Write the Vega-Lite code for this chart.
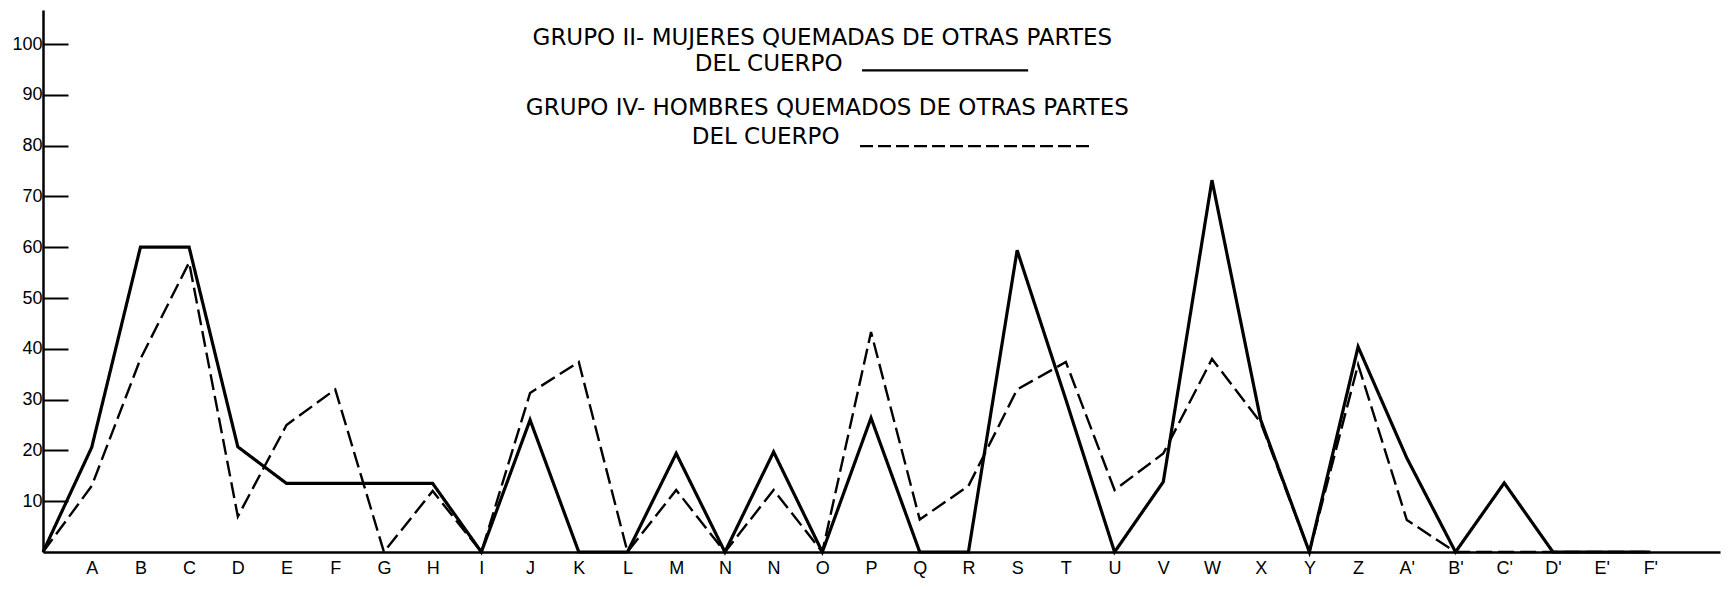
{
  "$schema": "https://vega.github.io/schema/vega-lite/v6.json",
  "autosize": {"type": "none"},
  "padding": {"left": 43, "top": 10, "right": 11, "bottom": 37},
  "width": 1677,
  "height": 542,
  "background": "white",
  "config": {"view": {"stroke": null}, "axis": {"grid": false}},
  "data": {"values": [
    {"i": 0, "cat": " ", "grupo": "II", "valor": 0},
    {"i": 1, "cat": "A", "grupo": "II", "valor": 20.6},
    {"i": 2, "cat": "B", "grupo": "II", "valor": 60},
    {"i": 3, "cat": "C", "grupo": "II", "valor": 60},
    {"i": 4, "cat": "D", "grupo": "II", "valor": 20.7},
    {"i": 5, "cat": "E", "grupo": "II", "valor": 13.5},
    {"i": 6, "cat": "F", "grupo": "II", "valor": 13.5},
    {"i": 7, "cat": "G", "grupo": "II", "valor": 13.5},
    {"i": 8, "cat": "H", "grupo": "II", "valor": 13.5},
    {"i": 9, "cat": "I", "grupo": "II", "valor": 0},
    {"i": 10, "cat": "J", "grupo": "II", "valor": 26},
    {"i": 11, "cat": "K", "grupo": "II", "valor": 0},
    {"i": 12, "cat": "L", "grupo": "II", "valor": 0},
    {"i": 13, "cat": "M", "grupo": "II", "valor": 19.4},
    {"i": 14, "cat": "N", "grupo": "II", "valor": 0},
    {"i": 15, "cat": "N ", "grupo": "II", "valor": 19.7},
    {"i": 16, "cat": "O", "grupo": "II", "valor": 0},
    {"i": 17, "cat": "P", "grupo": "II", "valor": 26.4},
    {"i": 18, "cat": "Q", "grupo": "II", "valor": 0},
    {"i": 19, "cat": "R", "grupo": "II", "valor": 0},
    {"i": 20, "cat": "S", "grupo": "II", "valor": 59.4},
    {"i": 21, "cat": "T", "grupo": "II", "valor": 30},
    {"i": 22, "cat": "U", "grupo": "II", "valor": 0},
    {"i": 23, "cat": "V", "grupo": "II", "valor": 13.8},
    {"i": 24, "cat": "W", "grupo": "II", "valor": 73.2},
    {"i": 25, "cat": "X", "grupo": "II", "valor": 26},
    {"i": 26, "cat": "Y", "grupo": "II", "valor": 0},
    {"i": 27, "cat": "Z", "grupo": "II", "valor": 40.4},
    {"i": 28, "cat": "A'", "grupo": "II", "valor": 18.5},
    {"i": 29, "cat": "B'", "grupo": "II", "valor": 0},
    {"i": 30, "cat": "C'", "grupo": "II", "valor": 13.6},
    {"i": 31, "cat": "D'", "grupo": "II", "valor": 0},
    {"i": 32, "cat": "E'", "grupo": "II", "valor": 0},
    {"i": 33, "cat": "F'", "grupo": "II", "valor": 0},
    {"i": 0, "cat": " ", "grupo": "IV", "valor": 0},
    {"i": 1, "cat": "A", "grupo": "IV", "valor": 13},
    {"i": 2, "cat": "B", "grupo": "IV", "valor": 38},
    {"i": 3, "cat": "C", "grupo": "IV", "valor": 57},
    {"i": 4, "cat": "D", "grupo": "IV", "valor": 7},
    {"i": 5, "cat": "E", "grupo": "IV", "valor": 25},
    {"i": 6, "cat": "F", "grupo": "IV", "valor": 32},
    {"i": 7, "cat": "G", "grupo": "IV", "valor": 0},
    {"i": 8, "cat": "H", "grupo": "IV", "valor": 12},
    {"i": 9, "cat": "I", "grupo": "IV", "valor": 0},
    {"i": 10, "cat": "J", "grupo": "IV", "valor": 31.3},
    {"i": 11, "cat": "K", "grupo": "IV", "valor": 37.4},
    {"i": 12, "cat": "L", "grupo": "IV", "valor": 0},
    {"i": 13, "cat": "M", "grupo": "IV", "valor": 12.2},
    {"i": 14, "cat": "N", "grupo": "IV", "valor": 0},
    {"i": 15, "cat": "N ", "grupo": "IV", "valor": 12.2},
    {"i": 16, "cat": "O", "grupo": "IV", "valor": 0},
    {"i": 17, "cat": "P", "grupo": "IV", "valor": 43.3},
    {"i": 18, "cat": "Q", "grupo": "IV", "valor": 6.4},
    {"i": 19, "cat": "R", "grupo": "IV", "valor": 13},
    {"i": 20, "cat": "S", "grupo": "IV", "valor": 32},
    {"i": 21, "cat": "T", "grupo": "IV", "valor": 37.4},
    {"i": 22, "cat": "U", "grupo": "IV", "valor": 12.2},
    {"i": 23, "cat": "V", "grupo": "IV", "valor": 19.4},
    {"i": 24, "cat": "W", "grupo": "IV", "valor": 38},
    {"i": 25, "cat": "X", "grupo": "IV", "valor": 25.5},
    {"i": 26, "cat": "Y", "grupo": "IV", "valor": 0},
    {"i": 27, "cat": "Z", "grupo": "IV", "valor": 36.9},
    {"i": 28, "cat": "A'", "grupo": "IV", "valor": 6.3},
    {"i": 29, "cat": "B'", "grupo": "IV", "valor": 0},
    {"i": 30, "cat": "C'", "grupo": "IV", "valor": 0},
    {"i": 31, "cat": "D'", "grupo": "IV", "valor": 0},
    {"i": 32, "cat": "E'", "grupo": "IV", "valor": 0},
    {"i": 33, "cat": "F'", "grupo": "IV", "valor": 0}
  ]},
  "layer": [
    {
      "mark": {"type": "line", "color": "black", "strokeJoin": "miter", "strokeCap": "butt"},
      "encoding": {
        "x": {
          "field": "cat", "type": "ordinal", "sort": null,
          "scale": {"type": "point", "padding": 0.715, "align": 0},
          "axis": {
            "title": null, "labelAngle": 0, "ticks": false, "tickSize": 0,
            "domainColor": "black", "domainWidth": 2.5,
            "labelColor": "black", "labelFont": "Liberation Sans", "labelFontSize": 18,
            "labelPadding": 7, "labelExpr": "trim(datum.label)"
          }
        },
        "y": {
          "field": "valor", "type": "quantitative",
          "scale": {"domain": [0, 106.7], "nice": false},
          "axis": {
            "title": null, "values": [10, 20, 30, 40, 50, 60, 70, 80, 90, 100],
            "domainColor": "black", "domainWidth": 2.5,
            "tickColor": "black", "tickWidth": 2, "tickSize": -25,
            "labelColor": "black", "labelFont": "Liberation Sans", "labelFontSize": 18,
            "labelPadding": 26
          }
        },
        "detail": {"field": "grupo"},
        "order": {"field": "i", "type": "quantitative"},
        "strokeDash": {
          "field": "grupo", "type": "nominal",
          "scale": {"domain": ["II", "IV"], "range": [[1, 0], [16, 6]]},
          "legend": null
        },
        "strokeWidth": {
          "field": "grupo", "type": "nominal",
          "scale": {"domain": ["II", "IV"], "range": [3.2, 2.4]},
          "legend": null
        }
      }
    },
    {
      "data": {"values": [{}]},
      "mark": {"type": "text", "text": "GRUPO II- MUJERES QUEMADAS DE OTRAS PARTES", "font": "DejaVu Sans", "fontSize": 23, "align": "center", "baseline": "alphabetic", "color": "black"},
      "encoding": {"x": {"datum": "O"}, "y": {"datum": 99.9}}
    },
    {
      "data": {"values": [{}]},
      "mark": {"type": "text", "text": "DEL CUERPO", "font": "DejaVu Sans", "fontSize": 23, "align": "center", "baseline": "alphabetic", "color": "black", "dx": -5},
      "encoding": {"x": {"datum": "N "}, "y": {"datum": 94.6}}
    },
    {
      "data": {"values": [{}]},
      "mark": {"type": "rule", "color": "black", "strokeWidth": 2.2, "xOffset": -9, "x2Offset": 11},
      "encoding": {"x": {"datum": "P"}, "x2": {"datum": "S"}, "y": {"datum": 94.8}}
    },
    {
      "data": {"values": [{}]},
      "mark": {"type": "text", "text": "GRUPO IV- HOMBRES QUEMADOS DE OTRAS PARTES", "font": "DejaVu Sans", "fontSize": 23, "align": "center", "baseline": "alphabetic", "color": "black", "dx": 5},
      "encoding": {"x": {"datum": "O"}, "y": {"datum": 86.0}}
    },
    {
      "data": {"values": [{}]},
      "mark": {"type": "text", "text": "DEL CUERPO", "font": "DejaVu Sans", "fontSize": 23, "align": "center", "baseline": "alphabetic", "color": "black", "dx": -8},
      "encoding": {"x": {"datum": "N "}, "y": {"datum": 80.4}}
    },
    {
      "data": {"values": [{}]},
      "mark": {"type": "rule", "color": "black", "strokeWidth": 2.2, "strokeDash": [13, 5], "xOffset": -11, "x2Offset": 27},
      "encoding": {"x": {"datum": "P"}, "x2": {"datum": "T"}, "y": {"datum": 79.9}}
    }
  ]
}
